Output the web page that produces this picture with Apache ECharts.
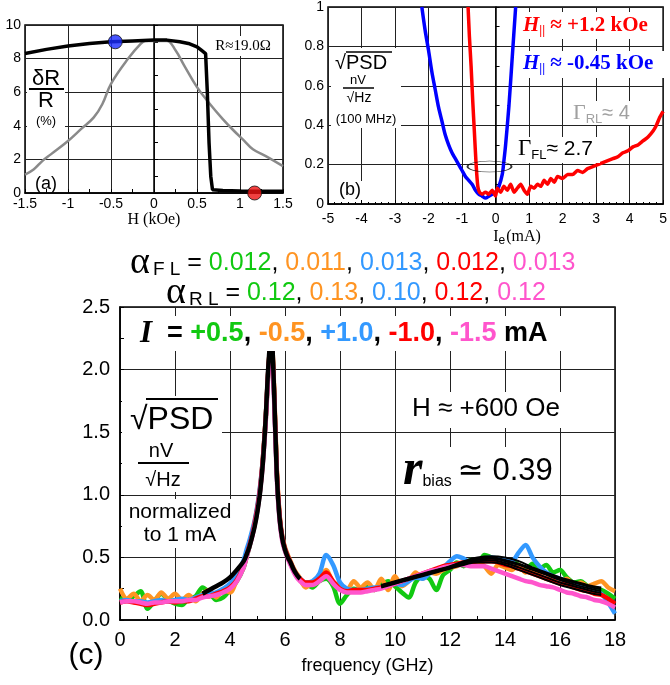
<!DOCTYPE html>
<html>
<head>
<meta charset="utf-8">
<script src="https://cdn.jsdelivr.net/npm/echarts@6/dist/echarts.min.js"></script>
<style>
html, body { margin: 0; padding: 0; background: #fff; }
#chart { width: 670px; height: 685px; }
</style>
</head>
<body>
<div id="chart"></div>
<script>
// ---------- Panel (a): dR/R versus field ----------
const fieldSweepBlack = [[-1.5,8.3],[-1.25,8.55],[-1.0,8.75],[-0.75,8.9],[-0.5,9.0],[-0.25,9.05],[0,9.1],[0.15,9.1],[0.3,9.0],[0.4,8.9],[0.5,8.7],[0.55,8.5],[0.6,8.3],[0.62,6.0],[0.64,3.0],[0.66,1.0],[0.68,0.2],[0.8,0.15],[1.0,0.12],[1.2,0.1],[1.5,0.1]];
const fieldSweepGray = [[-1.5,1.1],[-1.4,1.4],[-1.3,1.9],[-1.2,2.3],[-1.0,3.1],[-0.85,3.8],[-0.7,4.5],[-0.6,5.3],[-0.5,6.5],[-0.3,8.0],[-0.15,8.9],[-0.1,9.05],[0.0,9.05],[0.15,9.05],[0.25,8.5],[0.35,7.6],[0.5,6.3],[0.65,5.3],[0.8,4.4],[0.92,3.75],[1.05,3.1],[1.15,2.6],[1.3,2.2],[1.5,1.6]];
const biasFieldBlue = [[-0.45, 9.0]];
const biasFieldRed = [[1.17, 0.0]];

// ---------- Panel (b): noise at 100 MHz versus current ----------
const noiseBlue = [[-2.2,1.0],[-2.1,0.88],[-2.0,0.78],[-1.9,0.67],[-1.8,0.58],[-1.7,0.49],[-1.6,0.42],[-1.5,0.35],[-1.4,0.30],[-1.3,0.26],[-1.2,0.23],[-1.1,0.20],[-1.0,0.17],[-0.9,0.14],[-0.8,0.12],[-0.7,0.10],[-0.6,0.07],[-0.5,0.05],[-0.4,0.04],[-0.3,0.03],[-0.2,0.04],[-0.1,0.05],[0.0,0.06],[0.1,0.09],[0.2,0.15],[0.25,0.22],[0.3,0.30],[0.4,0.50],[0.5,0.75],[0.6,1.0]];
const noiseRed = [[-0.82,1.0],[-0.78,0.85],[-0.73,0.70],[-0.68,0.52],[-0.63,0.36],[-0.58,0.20],[-0.53,0.09],[-0.48,0.06],[-0.4,0.05],[-0.3,0.06],[-0.2,0.05],[-0.1,0.07],[0,0.04],[0.05,0.08],[0.15,0.06],[0.25,0.09],[0.35,0.07],[0.45,0.10],[0.55,0.06],[0.65,0.08],[0.75,0.10],[0.85,0.07],[0.95,0.05],[1.05,0.09],[1.15,0.08],[1.25,0.10],[1.35,0.09],[1.45,0.12],[1.55,0.10],[1.65,0.13],[1.75,0.11],[1.85,0.14],[2.0,0.13],[2.15,0.15],[2.3,0.15],[2.45,0.17],[2.6,0.16],[2.75,0.18],[2.9,0.19],[3.05,0.20],[3.2,0.21],[3.35,0.22],[3.5,0.23],[3.65,0.24],[3.8,0.26],[3.95,0.27],[4.1,0.29],[4.25,0.30],[4.4,0.32],[4.55,0.34],[4.7,0.37],[4.8,0.40],[4.9,0.44],[5.0,0.47]];
const flEllipse = [[-0.18, 0.19]];

// ---------- Panel (c): normalized spectra ----------
const freq = [0,0.25,0.5,0.75,1,1.25,1.5,1.75,2,2.25,2.5,2.75,3,3.25,3.5,3.75,4,4.25,
  4.5,4.6,4.7,4.8,4.9,5,5.1,5.2,5.3,5.4,5.5,5.6,5.7,5.8,5.9,6,6.1,6.2,6.3,6.4,6.5,
  6.75,7,7.25,7.5,7.75,8,8.25,8.5,8.75,9,9.25,9.5,9.75,10,10.25,10.5,10.75,11,11.25,11.5,11.75,12,12.25,12.5,12.75,13,13.25,13.5,13.75,14,14.25,14.5,14.75,15,15.25,15.5,15.75,16,16.25,16.5,16.75,17,17.25,17.5,17.75,18];
const psdGreen = [0.18,0.16,0.19,0.23,0.09,0.15,0.21,0.16,0.13,0.12,0.17,0.19,0.26,0.22,0.16,0.18,0.24,0.31,
  0.42,0.50,0.58,0.67,0.77,0.89,1.05,1.28,1.60,2.00,2.24,1.83,1.18,0.82,0.65,0.56,0.50,0.45,0.40,0.36,0.33,
  0.29,0.26,0.31,0.33,0.27,0.13,0.20,0.25,0.23,0.28,0.24,0.28,0.31,0.27,0.22,0.18,0.30,0.35,0.33,0.24,0.36,0.40,0.46,0.43,0.48,0.45,0.52,0.50,0.46,0.45,0.47,0.44,0.40,0.45,0.41,0.44,0.38,0.40,0.34,0.30,0.31,0.27,0.25,0.24,0.21,0.17];
const psdOrange = [0.25,0.17,0.21,0.15,0.20,0.16,0.22,0.17,0.21,0.16,0.20,0.15,0.21,0.24,0.18,0.24,0.22,0.32,
  0.43,0.51,0.60,0.69,0.79,0.91,1.07,1.30,1.62,2.02,2.27,1.88,1.22,0.85,0.67,0.58,0.52,0.47,0.42,0.38,0.35,
  0.26,0.30,0.34,0.40,0.30,0.28,0.24,0.31,0.26,0.30,0.24,0.33,0.24,0.35,0.27,0.31,0.38,0.33,0.38,0.37,0.40,0.42,0.43,0.46,0.44,0.47,0.43,0.37,0.44,0.42,0.40,0.44,0.38,0.40,0.36,0.33,0.35,0.30,0.33,0.28,0.30,0.27,0.29,0.31,0.26,0.23];
const psdBlue = [0.15,0.16,0.15,0.15,0.14,0.15,0.16,0.15,0.16,0.17,0.16,0.18,0.20,0.21,0.22,0.25,0.29,0.36,
  0.48,0.56,0.63,0.71,0.80,0.92,1.08,1.30,1.62,2.02,2.24,1.82,1.18,0.83,0.66,0.57,0.51,0.46,0.41,0.37,0.34,
  0.30,0.31,0.37,0.52,0.44,0.30,0.25,0.24,0.24,0.25,0.26,0.26,0.28,0.29,0.28,0.31,0.34,0.33,0.37,0.40,0.42,0.47,0.51,0.49,0.46,0.47,0.49,0.50,0.49,0.48,0.47,0.54,0.60,0.50,0.43,0.38,0.35,0.33,0.31,0.29,0.27,0.25,0.23,0.21,0.14,0.05];
const psdRed = [0.14,0.15,0.14,0.13,0.12,0.13,0.14,0.15,0.14,0.15,0.15,0.17,0.19,0.19,0.21,0.23,0.26,0.32,
  0.43,0.51,0.59,0.67,0.78,0.90,1.06,1.30,1.62,2.02,2.26,1.85,1.20,0.84,0.66,0.57,0.51,0.46,0.41,0.37,0.34,
  0.30,0.30,0.33,0.38,0.31,0.25,0.23,0.24,0.24,0.24,0.25,0.26,0.27,0.29,0.31,0.33,0.35,0.37,0.39,0.41,0.43,0.44,0.45,0.46,0.46,0.47,0.47,0.47,0.46,0.44,0.43,0.41,0.39,0.37,0.35,0.33,0.31,0.29,0.28,0.26,0.24,0.23,0.21,0.20,0.17,0.13];
const psdPink = [0.14,0.15,0.15,0.14,0.13,0.14,0.14,0.15,0.15,0.15,0.16,0.16,0.18,0.19,0.20,0.22,0.25,0.31,
  0.42,0.50,0.58,0.66,0.76,0.88,1.04,1.26,1.58,1.98,2.22,1.78,1.14,0.80,0.63,0.55,0.49,0.44,0.39,0.35,0.32,
  0.28,0.28,0.31,0.35,0.29,0.24,0.22,0.22,0.22,0.23,0.24,0.25,0.27,0.29,0.31,0.33,0.35,0.37,0.39,0.40,0.42,0.43,0.44,0.44,0.43,0.43,0.43,0.41,0.39,0.37,0.35,0.33,0.31,0.30,0.28,0.27,0.26,0.24,0.22,0.21,0.19,0.18,0.16,0.15,0.13,0.10];

// Lorentzian fits: main mode and the broad high-frequency mode (one curve per current)
const fitMainFreq = [3,3.25,3.5,3.75,4,4.25,4.5,4.6,4.7,4.8,4.9,5,5.1,5.2,5.3,5.4,5.5,5.6,5.7,5.8,5.9,6,6.1,6.2,6.3,6.4,6.5,6.55];
const fitMain = [0.21,0.24,0.27,0.30,0.34,0.40,0.47,0.52,0.58,0.66,0.75,0.87,1.03,1.27,1.62,2.05,2.30,1.85,1.17,0.82,0.65,0.56,0.50,0.46,0.41,0.37,0.34,0.33];
const fitBroadFreq = [9.5,10,10.5,11,11.5,12,12.5,13,13.5,14,14.5,15,15.5,16,16.5,17,17.5];
const fitBroad1 = [0.28,0.31,0.34,0.37,0.40,0.43,0.47,0.50,0.51,0.50,0.47,0.42,0.38,0.34,0.31,0.28,0.26];
const fitBroad2 = [0.275,0.305,0.335,0.365,0.395,0.425,0.46,0.49,0.50,0.48,0.45,0.41,0.37,0.33,0.30,0.27,0.245];
const fitBroad3 = [0.27,0.30,0.33,0.36,0.39,0.42,0.455,0.48,0.49,0.47,0.44,0.40,0.36,0.32,0.285,0.255,0.23];
const fitBroad4 = [0.265,0.295,0.325,0.355,0.385,0.415,0.45,0.47,0.475,0.455,0.42,0.38,0.34,0.30,0.27,0.24,0.215];
const fitBroad5 = [0.26,0.29,0.32,0.35,0.38,0.41,0.44,0.46,0.46,0.44,0.40,0.36,0.32,0.28,0.25,0.22,0.20];

// Damping values and currents printed above panel (c)
const alphaFL = ['0.012', '0.011', '0.013', '0.012', '0.013'];
const alphaRL = ['0.12', '0.13', '0.10', '0.12', '0.12'];
const currents = ['+0.5', '-0.5', '+1.0', '-1.0', '-1.5'];
const currentColors = ['#11c911', '#ff9422', '#3399ff', '#ff0000', '#ff55cc'];

const SANS = '"Liberation Sans", Arial, sans-serif';
const SERIF = '"Liberation Serif", "Times New Roman", serif';
const SANS_MATH = '"Liberation Sans", "DejaVu Sans", sans-serif';

const zip = (xs, ys) => xs.map((x, i) => [x, ys[i]]);

function axisCommon(fontSize, margin) {
  return {
    type: 'value',
    axisLine: { show: true, lineStyle: { color: '#000', width: 1.5 } },
    axisTick: { show: true, inside: true, length: 4, lineStyle: { color: '#000' } },
    minorTick: { show: true, splitNumber: 2, length: 4, lineStyle: { color: '#000' } },
    axisLabel: { fontFamily: SANS, fontSize: fontSize, color: '#000', margin: margin },
    splitLine: { show: true, lineStyle: { color: '#222', width: 1 } }
  };
}

// ---------- annotation helpers ----------
function box(x, y, w, h) {
  return { type: 'rect', z: 90, shape: { x: x, y: y, width: w, height: h }, style: { fill: '#fff' } };
}
function hline(x1, x2, y, w) {
  return { type: 'line', z: 95, shape: { x1: x1, y1: y, x2: x2, y2: y }, style: { stroke: '#000', lineWidth: w || 1.5 } };
}
function label(x, y, text, font, fill, align, rich) {
  const st = {
    text: text, x: x, y: y, font: font, fill: fill || '#000',
    align: align || 'center', textAlign: align || 'center',
    verticalAlign: 'middle', textVerticalAlign: 'middle'
  };
  if (rich) st.rich = rich;
  return { type: 'text', z: 100, style: st };
}
function tok(size, family, extra) {
  return Object.assign({ fontSize: size, fontFamily: family, fill: '#000', color: '#000' }, extra || {});
}

// rich strings
const sepTok = (i) => i < 4 ? '{k|, }' : '';
const alphaFLText = '{a|α}{s|F L}{e| = }' + alphaFL.map((v, i) => '{c' + i + '|' + v + '}' + sepTok(i)).join('');
const alphaRLText = '{a|α}{s|R L}{e| = }' + alphaRL.map((v, i) => '{c' + i + '|' + v + '}' + sepTok(i)).join('');
const alphaRich = {
  a: tok(38, SERIF),
  s: tok(19, SANS, { padding: [14, 0, 0, 3] }),
  e: tok(25, SANS),
  k: tok(25, SANS)
};
currentColors.forEach((c, i) => { alphaRich['c' + i] = tok(25, SANS, { fill: c, color: c }); });

const currentText = '{i|I}{e|  = }' + currents.map((v, i) => '{c' + i + '|' + v + '}' + sepTok(i)).join('') + '{k| mA}';
const currentRich = {
  i: tok(31, SERIF, { fontWeight: 'bold', fontStyle: 'italic' }),
  e: tok(27, SANS, { fontWeight: 'bold' }),
  k: tok(27, SANS, { fontWeight: 'bold' })
};
currentColors.forEach((c, i) => { currentRich['c' + i] = tok(27, SANS, { fontWeight: 'bold', fill: c, color: c }); });

function hParRich(color) {
  return {
    h: tok(21, SERIF, { fontWeight: 'bold', fontStyle: 'italic', fill: color, color: color }),
    s: tok(13, SERIF, { fontWeight: 'bold', fill: color, color: color, padding: [10, 0, 0, 0] }),
    t: tok(21, SERIF, { fontWeight: 'bold', fill: color, color: color })
  };
}
function gammaRich(color, size) {
  return {
    g: tok(size + 2, SERIF, { fill: color, color: color }),
    s: tok(13, SANS, { fill: color, color: color, padding: [12, 0, 0, 0] }),
    t: tok(size, SANS_MATH, { fill: color, color: color })
  };
}

const graphics = [
  // panel (a)
  box(27, 66, 38, 64),
  label(46, 79, 'δR', '22px ' + SANS),
  hline(29, 64, 89, 2),
  label(46, 101, 'R', '22px ' + SANS),
  label(46, 121, '(%)', '13px ' + SANS),
  label(46, 184, '(a)', '18px ' + SANS),
  box(209, 36, 70, 20),
  label(243, 46, 'R≈19.0Ω', '15px ' + SERIF),

  // panel (b)
  box(331, 48, 70, 80),
  label(335, 63, '√PSD', '20px ' + SANS, '#000', 'left'),
  hline(346, 392, 52, 1.5),
  label(358, 80, 'nV', '13px ' + SANS),
  hline(343, 374, 88, 1.5),
  label(359, 98, '√Hz', '14px ' + SANS),
  label(366, 119, '(100 MHz)', '13px ' + SANS),
  box(335, 181, 29, 19),
  label(350, 190, '(b)', '18px ' + SANS),
  box(520, 12, 142, 27),
  label(523, 26, '{h|H}{s|||}{t| ≈ +1.2 kOe}', '21px ' + SERIF, '#ff0000', 'left', hParRich('#ff0000')),
  box(520, 51, 147, 27),
  label(523, 64, '{h|H}{s|||}{t| ≈ -0.45 kOe}', '21px ' + SERIF, '#0000ff', 'left', hParRich('#0000ff')),
  box(568, 101, 64, 24),
  label(573, 113, '{g|Γ}{s|RL}{t|≈ 4}', '20px ' + SERIF, '#999', 'left', gammaRich('#a0a0a0', 20)),
  box(514, 137, 86, 26),
  label(518, 149, '{g|Γ}{s|FL}{t|≈ 2.7}', '21px ' + SERIF, '#000', 'left', gammaRich('#000', 21)),
  label(517, 237, '{i|I}{s|e}{t|(mA)}', '16px ' + SERIF, '#000', 'center', {
    i: tok(16, SERIF), s: tok(12, SANS, { padding: [8, 1, 0, 0] }), t: tok(16, SERIF)
  }),

  // damping values
  label(130, 263, alphaFLText, '25px ' + SANS, '#000', 'left', alphaRich),
  label(166, 293, alphaRLText, '25px ' + SANS, '#000', 'left', alphaRich),

  // panel (c)
  box(128, 316, 436, 35),
  label(140, 334, currentText, 'bold 27px ' + SANS, '#000', 'left', currentRich),
  box(122, 396, 100, 96),
  label(130, 420, '√PSD', '32px ' + SANS, '#000', 'left'),
  hline(146, 218, 399, 2),
  label(161, 451, 'nV', '20px ' + SANS),
  hline(138, 189, 463, 2),
  label(163, 480, '√Hz', '20px ' + SANS),
  box(122, 499, 114, 49),
  label(180, 512, 'normalized', '21px ' + SANS),
  label(180, 535, 'to 1 mA', '21px ' + SANS),
  box(398, 392, 172, 36),
  label(412, 409, 'H ≈ +600 Oe', '26px ' + SANS, '#000', 'left'),
  box(398, 447, 154, 48),
  label(403, 471, '{r|r}{b|bias}{t|≃ 0.39}', '32px ' + SANS, '#000', 'left', {
    r: tok(50, SERIF, { fontWeight: 'bold', fontStyle: 'italic' }),
    b: tok(16, SANS, { padding: [22, 0, 0, 0] }),
    t: tok(31, SANS_MATH, { padding: [0, 0, 0, 6] })
  }),
  label(86, 656, '(c)', '30px ' + SANS)
];

function lineSeries(xi, yi, data, color, width, smooth, z) {
  return {
    type: 'line', xAxisIndex: xi, yAxisIndex: yi, data: data, showSymbol: false, symbol: 'none',
    smooth: smooth, lineStyle: { color: color, width: width }, z: z || 2, animation: false
  };
}

const chart = echarts.init(document.getElementById('chart'));
chart.setOption({
  backgroundColor: '#fff',
  animation: false,
  grid: [
    { left: 25, top: 25, width: 258, height: 168, show: true, borderColor: '#000', borderWidth: 1.5 },
    { left: 328, top: 7, width: 340, height: 197, show: true, borderColor: '#000', borderWidth: 1.5 },
    { left: 120, top: 307, width: 495, height: 313, show: true, borderColor: '#000', borderWidth: 1.5 }
  ],
  xAxis: [
    Object.assign(axisCommon(14, 4), {
      gridIndex: 0, min: -1.5, max: 1.5, interval: 0.5,
      name: 'H (kOe)', nameLocation: 'middle', nameGap: 13,
      nameTextStyle: { fontFamily: SERIF, fontSize: 16, color: '#000' }
    }),
    Object.assign(axisCommon(14, 8), {
      gridIndex: 1, min: -5, max: 5, interval: 1,
      minorTick: { show: true, splitNumber: 5, length: 2, lineStyle: { color: '#000' } }
    }),
    Object.assign(axisCommon(20, 10), {
      gridIndex: 2, min: 0, max: 18, interval: 2,
      name: 'frequency (GHz)', nameLocation: 'middle', nameGap: 37,
      nameTextStyle: { fontFamily: SANS, fontSize: 18, color: '#000' }
    })
  ],
  yAxis: [
    Object.assign(axisCommon(14, 4), { gridIndex: 0, min: 0, max: 10, interval: 2 }),
    Object.assign(axisCommon(14, 4), { gridIndex: 1, min: 0, max: 1, interval: 0.2 }),
    Object.assign(axisCommon(20, 10), {
      gridIndex: 2, min: 0, max: 2.5, interval: 0.5,
      axisLabel: { fontFamily: SANS, fontSize: 20, color: '#000', margin: 10, formatter: v => v.toFixed(1) }
    })
  ],
  series: [
    // (a)
    lineSeries(0, 0, fieldSweepGray, '#8a8a8a', 2.5, 0.4),
    lineSeries(0, 0, fieldSweepBlack, '#000', 3.5, false, 3),
    { type: 'scatter', xAxisIndex: 0, yAxisIndex: 0, data: biasFieldBlue, symbolSize: 14, clip: false, z: 5,
      itemStyle: { color: '#1a2cff', borderColor: '#111', borderWidth: 1 } },
    { type: 'scatter', xAxisIndex: 0, yAxisIndex: 0, data: biasFieldRed, symbolSize: 14, clip: false, z: 5,
      itemStyle: { color: '#ee1111', borderColor: '#111', borderWidth: 1 } },
    // (b)
    lineSeries(1, 1, noiseBlue, '#0000ff', 3.5, 0.3),
    lineSeries(1, 1, noiseRed, '#ff0000', 3.5, 0.2, 3),
    { type: 'scatter', xAxisIndex: 1, yAxisIndex: 1, data: flEllipse, symbol: 'circle', symbolSize: [44, 11], z: 6,
      itemStyle: { color: 'rgba(0,0,0,0)', borderColor: '#000', borderWidth: 1 } },
    // (c)
    lineSeries(2, 2, zip(freq, psdGreen), currentColors[0], 4.5, 0.3),
    lineSeries(2, 2, zip(freq, psdOrange), currentColors[1], 4.5, 0.3),
    lineSeries(2, 2, zip(freq, psdBlue), currentColors[2], 4.5, 0.3),
    lineSeries(2, 2, zip(freq, psdRed), currentColors[3], 4.5, 0.3),
    lineSeries(2, 2, zip(freq, psdPink), currentColors[4], 4.5, 0.3),
    lineSeries(2, 2, zip(fitMainFreq, fitMain), '#000', 4.5, 0.3, 4),
    lineSeries(2, 2, zip(fitBroadFreq, fitBroad1), '#000', 2, true, 4),
    lineSeries(2, 2, zip(fitBroadFreq, fitBroad2), '#000', 2, true, 4),
    lineSeries(2, 2, zip(fitBroadFreq, fitBroad3), '#000', 2, true, 4),
    lineSeries(2, 2, zip(fitBroadFreq, fitBroad4), '#000', 2, true, 4),
    lineSeries(2, 2, zip(fitBroadFreq, fitBroad5), '#000', 2, true, 4)
  ],
  graphic: { elements: graphics }
});
</script>
</body>
</html>
